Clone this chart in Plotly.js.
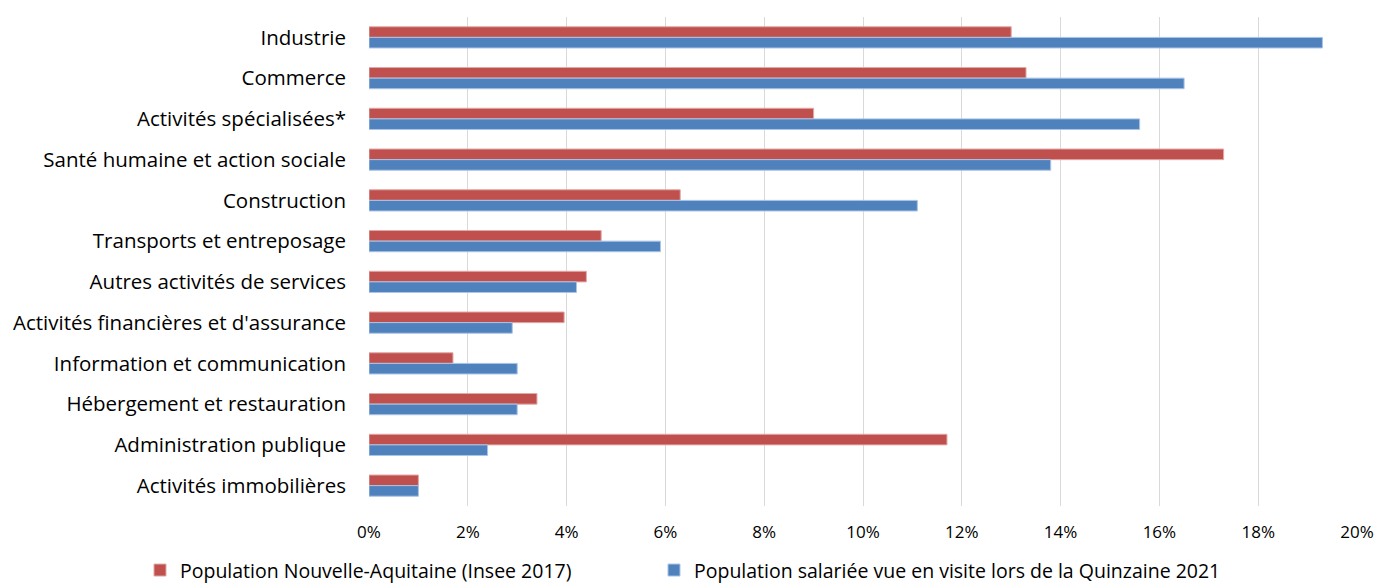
<!DOCTYPE html>
<html>
<head>
<meta charset="utf-8">
<script src="https://cdn.plot.ly/plotly-3.0.1.min.js"></script>
<style>html,body{margin:0;padding:0;background:#fff;}#chart{width:1378px;height:588px;}</style>
</head>
<body>
<div id="chart"></div>
<script>
const categories = [
  "Industrie",
  "Commerce",
  "Activités spécialisées*",
  "Santé humaine et action sociale",
  "Construction",
  "Transports et entreposage",
  "Autres activités de services",
  "Activités financières et d'assurance",
  "Information et communication",
  "Hébergement et restauration",
  "Administration publique",
  "Activités immobilières"
];
const popNouvelleAquitaine = [13.0, 13.3, 9.0, 17.3, 6.3, 4.7, 4.4, 3.95, 1.7, 3.4, 11.7, 1.0];
const popQuinzaine = [19.3, 16.5, 15.6, 13.8, 11.1, 5.9, 4.2, 2.9, 3.0, 3.0, 2.4, 1.0];
const seriesNames = ["Population Nouvelle-Aquitaine (Insee 2017)", "Population salariée vue en visite lors de la Quinzaine 2021"];
const tickVals = [0, 2, 4, 6, 8, 10, 12, 14, 16, 18, 20];
const tickText = ["0%", "2%", "4%", "6%", "8%", "10%", "12%", "14%", "16%", "18%", "20%"];

const font = "'Open Sans', sans-serif";
const traces = [
  {type: "bar", orientation: "h", y: categories, x: popNouvelleAquitaine, name: seriesNames[0], legend: "legend",
   marker: {color: "#C0504D", line: {color: "#e0a9a7", width: 1}}, hoverinfo: "x+y"},
  {type: "bar", orientation: "h", y: categories, x: popQuinzaine, name: seriesNames[1], legend: "legend2",
   marker: {color: "#4F81BD", line: {color: "#a9c4e6", width: 1}}, hoverinfo: "x+y"}
];
const legendBase = {orientation: "h", xref: "container", yref: "container", xanchor: "left", yanchor: "middle",
                    font: {size: 19.5, family: font}, itemwidth: 30, bgcolor: "rgba(0,0,0,0)"};
const layout = {
  width: 1378, height: 588,
  margin: {l: 369, r: 21, t: 17, b: 82},
  paper_bgcolor: "#fff", plot_bgcolor: "#fff",
  barmode: "group", bargap: 0.48, bargroupgap: 0,
  font: {family: font, color: "#000", size: 20},
  xaxis: {range: [0, 20], tickvals: tickVals, ticktext: tickText, showgrid: true, gridcolor: "#d9d9d9", gridwidth: 1,
          zeroline: false, showline: false, ticks: "", ticklabelstandoff: 14, tickfont: {size: 17, family: font}, fixedrange: true},
  yaxis: {autorange: "reversed", showgrid: false, zeroline: false, showline: false, ticks: "", ticklabelstandoff: 22,
          tickfont: {size: 20.5, family: font}, fixedrange: true},
  showlegend: true,
  legend: Object.assign({}, legendBase, {x: 0.1016, y: 0.03}),
  legend2: Object.assign({}, legendBase, {x: 0.4746, y: 0.03})
};
Plotly.newPlot("chart", traces, layout, {displayModeBar: false, staticPlot: true});
</script>
</body>
</html>
